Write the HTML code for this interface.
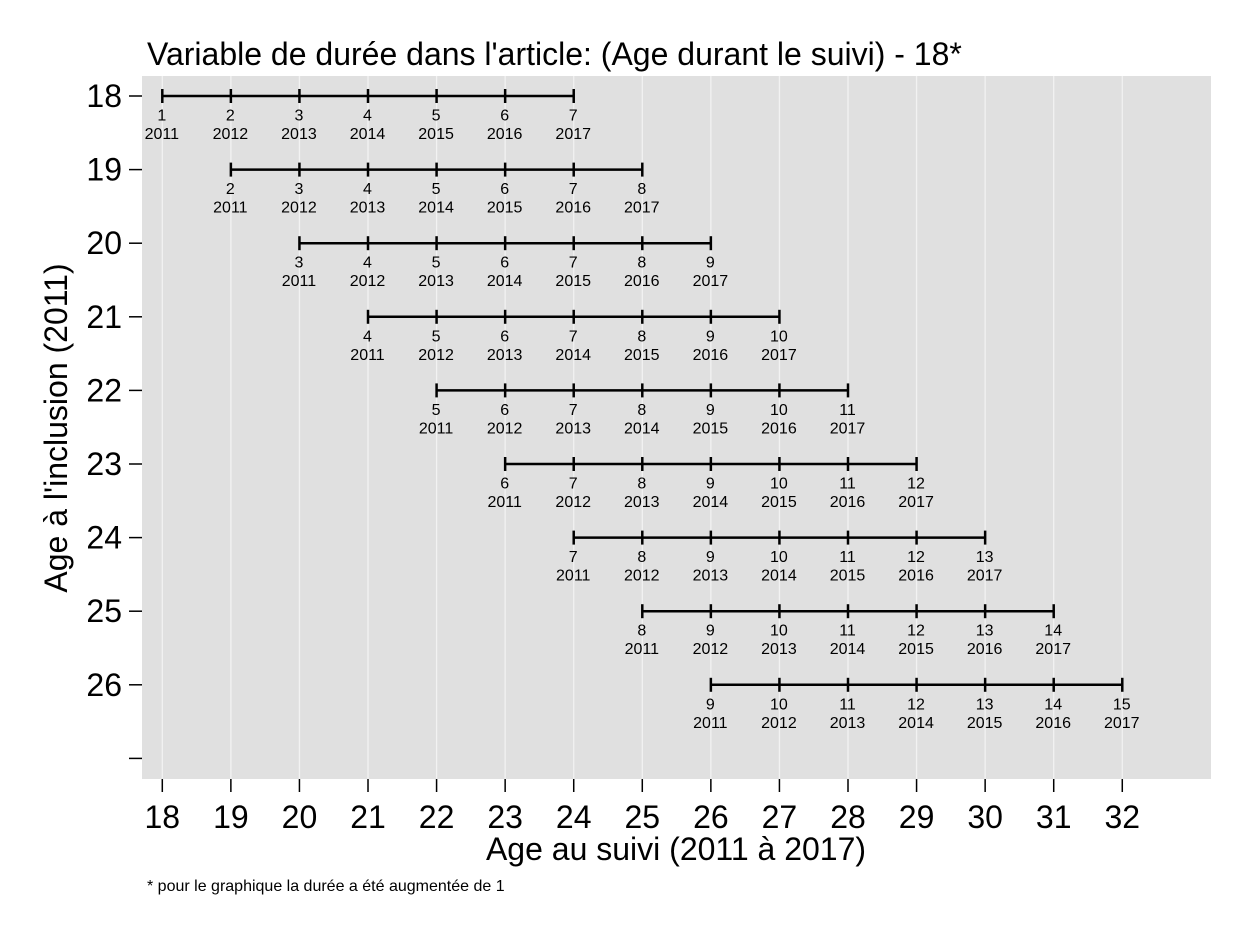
<!DOCTYPE html>
<html lang="fr">
<head>
<meta charset="utf-8">
<title>Variable de durée dans l'article</title>
<style>
html,body{margin:0;padding:0;background:#fff;}
svg{display:block;font-family:"Liberation Sans",Arial,sans-serif;}
</style>
</head>
<body>
<svg id="chart" xmlns="http://www.w3.org/2000/svg" width="1244" height="933" viewBox="0 0 1244 933"></svg>
<script>
const xTicks = [18,19,20,21,22,23,24,25,26,27,28,29,30,31,32];
const yTicks = [18,19,20,21,22,23,24,25,26,27];
const yTickLabels = ['18','19','20','21','22','23','24','25','26',''];
const years = [2011,2012,2013,2014,2015,2016,2017];
const inclusionAges = [18,19,20,21,22,23,24,25,26];
const followAges = [
  [18,19,20,21,22,23,24],
  [19,20,21,22,23,24,25],
  [20,21,22,23,24,25,26],
  [21,22,23,24,25,26,27],
  [22,23,24,25,26,27,28],
  [23,24,25,26,27,28,29],
  [24,25,26,27,28,29,30],
  [25,26,27,28,29,30,31],
  [26,27,28,29,30,31,32]
];
const durations = [
  [1,2,3,4,5,6,7],
  [2,3,4,5,6,7,8],
  [3,4,5,6,7,8,9],
  [4,5,6,7,8,9,10],
  [5,6,7,8,9,10,11],
  [6,7,8,9,10,11,12],
  [7,8,9,10,11,12,13],
  [8,9,10,11,12,13,14],
  [9,10,11,12,13,14,15]
];

const svg = document.getElementById('chart');
const NS = 'http://www.w3.org/2000/svg';
const xScale = v => 162.3 + (v - 18) * 68.57;
const yScale = v => 96 + (v - 18) * 73.6;

function add(tag, attrs, text) {
  const el = document.createElementNS(NS, tag);
  for (const k in attrs) el.setAttribute(k, attrs[k]);
  if (text !== undefined) el.textContent = text;
  svg.appendChild(el);
  return el;
}

const bg = add('rect', {x:142, y:76, width:1069, height:703, fill:'#e0e0e0'});



xTicks.forEach(v => {
  const g = add('line', {x1:xScale(v), x2:xScale(v), y1:76, y2:779, stroke:'#f2f2f2', 'stroke-width':1.3});
  
  
  const t = add('line', {x1:xScale(v), x2:xScale(v), y1:779, y2:792, stroke:'#000', 'stroke-width':1.5});
  
  
  const l = add('text', {x:xScale(v), y:828, 'text-anchor':'middle', 'font-size':32, fill:'#000'}, String(v));
  
  
});

yTicks.forEach((v, i) => {
  const t = add('line', {x1:129, x2:142, y1:yScale(v), y2:yScale(v), stroke:'#000', 'stroke-width':1.5});
  
  
  if (yTickLabels[i]) {
    const l = add('text', {x:122, y:yScale(v) + 11, 'text-anchor':'end', 'font-size':32, fill:'#000'}, yTickLabels[i]);
    
    
  }
});

inclusionAges.forEach((age, r) => {
  const y = yScale(age);
  const ages = followAges[r];
  const seg = add('line', {x1:xScale(ages[0]), x2:xScale(ages[ages.length - 1]), y1:y, y2:y, stroke:'#000', 'stroke-width':2.5});
  
  
  ages.forEach((a, i) => {
    const x = xScale(a);
    const m = add('line', {x1:x, x2:x, y1:y - 7, y2:y + 7, stroke:'#000', 'stroke-width':2.5});
    
    
    const d = add('text', {x:x - 0.5, y:y + 24.5, 'text-anchor':'middle', 'font-size':16, fill:'#000'}, String(durations[r][i]));
    
    
    const yl = add('text', {x:x - 0.5, y:y + 43, 'text-anchor':'middle', 'font-size':16, fill:'#000'}, String(years[i]));
    
    
  });
});

const title = add('text', {x:147, y:65, 'font-size':32, fill:'#000'}, "Variable de durée dans l'article: (Age durant le suivi) - 18*");



const xTitle = add('text', {x:676, y:860, 'text-anchor':'middle', 'font-size':32, fill:'#000'}, 'Age au suivi (2011 à 2017)');



const yTitle = add('text', {x:0, y:0, transform:'translate(67,428) rotate(-90)', 'text-anchor':'middle', 'font-size':32, fill:'#000'}, "Age à l'inclusion (2011)");



const note = add('text', {x:147, y:891, 'font-size':16, fill:'#000'}, '* pour le graphique la durée a été augmentée de 1');


</script>
</body>
</html>
